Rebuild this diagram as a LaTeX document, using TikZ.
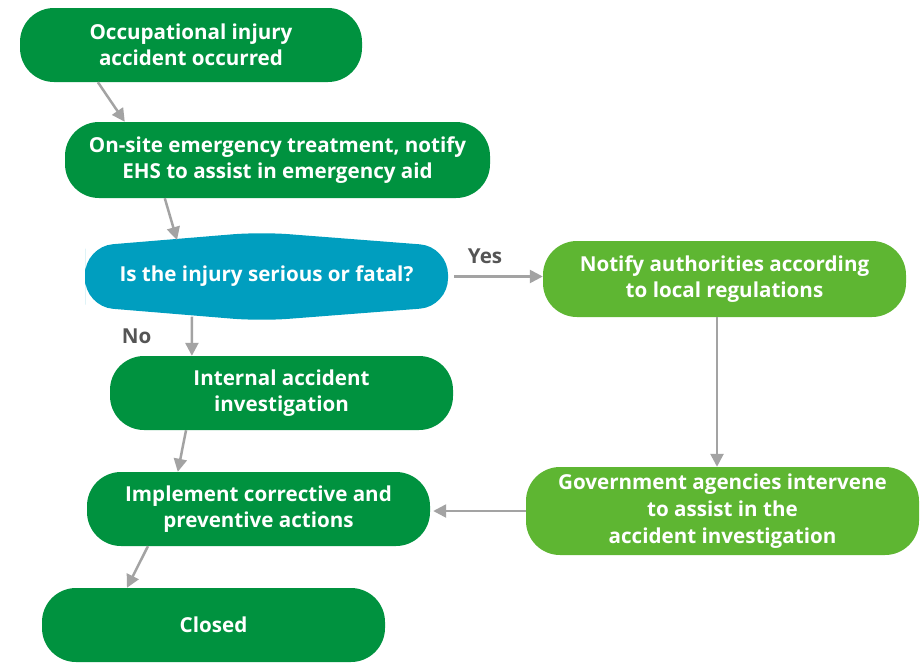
\documentclass[tikz,border=0pt]{standalone}
\usepackage{fontspec}
\setmainfont{Open Sans}
\usetikzlibrary{calc, positioning, arrows.meta, backgrounds}
\definecolor{darkGreen}{RGB}{0,146,63}
\definecolor{lightGreen}{RGB}{94,182,50}
\definecolor{askBlue}{RGB}{0,158,191}
\definecolor{lineGrey}{RGB}{163,163,163}
\definecolor{labelGrey}{RGB}{85,85,85}

\begin{document}
\begin{tikzpicture}[
  x=1pt, y=-1pt,
  font=\fontsize{20.6}{26}\selectfont\bfseries,
  box/.style={rectangle, rounded corners=34pt, minimum height=75pt, inner sep=0pt, align=center, text=white},
  inner/.style={box, fill=darkGreen},
  outer/.style={box, fill=lightGreen},
  flow/.style={draw=lineGrey, line width=2.5pt, -{Triangle[length=13pt,width=13pt]}},
  answer/.style={text=labelGrey}
]
\useasboundingbox (0,0) rectangle (921,662);

\node[inner, minimum width=342pt, minimum height=74pt] (occur) at (191,45) {Occupational injury\\accident occurred};
\node[inner, minimum width=425pt, minimum height=76pt] (aid) at (277.5,160) {On-site emergency treatment, notify\\EHS to assist in emergency aid};
\node[minimum width=363pt, minimum height=89pt, inner sep=0pt, text=white] (serious) at (266.5,276.5) {Is the injury serious or fatal?};
\node[outer, minimum width=363pt, minimum height=76pt] (notify) at (724.5,279) {Notify authorities according\\to local regulations};
\node[inner, minimum width=343pt, minimum height=74pt] (internal) at (281.5,393) {Internal accident\\investigation};
\node[inner, minimum width=343pt, minimum height=74pt] (correct) at (258.5,509) {Implement corrective and\\preventive actions};
\node[outer, minimum width=393pt, minimum height=88pt, font=\fontsize{20.6}{27}\selectfont\bfseries] (gov) at (722.5,511) {Government agencies intervene\\to assist in the\\accident investigation};
\node[inner, minimum width=343pt, minimum height=74pt] (closed) at (213.5,625) {Closed};

% question shape
\begin{scope}[on background layer]
\fill[askBlue, rounded corners=28pt] ($(serious.center)+(-181.5,0)$) -- ($(serious.center)+(-181.5,-30)$) -- ($(serious.center)+(-6,-44.5)$) -- ($(serious.center)+(181.5,-30)$) -- ($(serious.center)+(181.5,30)$) -- ($(serious.center)+(-6,44.5)$) -- ($(serious.center)+(-181.5,30)$) -- cycle;
\end{scope}
\coordinate (serious in) at ($(serious.center)+(-89.5,-36.5)$);
\coordinate (serious out) at ($(serious.center)+(-74.5,40)$);

\draw[flow] ($(occur.south west)!0.228!(occur.south east)$) -- ($(aid.north west)!0.141!(aid.north east)$);
\draw[flow] ($(aid.south west)!0.235!(aid.south east)$) -- (serious in);
\draw[flow] (serious out) -- ($(internal.north west)!0.239!(internal.north east)$) node[midway, left=36pt, answer] {No};
\draw[flow] ($(internal.south west)!0.222!(internal.south east)$) -- ($(correct.north west)!0.265!(correct.north east)$);
\draw[flow] ($(correct.south west)!0.178!(correct.south east)$) -- ($(closed.north west)!0.248!(closed.north east)$);
\draw[flow, shorten <=6pt] (serious.east) -- (serious.east -| notify.west) node[pos=0.39, above=8pt, answer] {Yes};
\draw[flow] ([xshift=-7.5pt]notify.south) -- ([xshift=-7.5pt]notify.south |- gov.north);
\draw[flow, shorten >=3pt] (gov.west) -- (gov.west -| correct.east);
\end{tikzpicture}
\end{document}
